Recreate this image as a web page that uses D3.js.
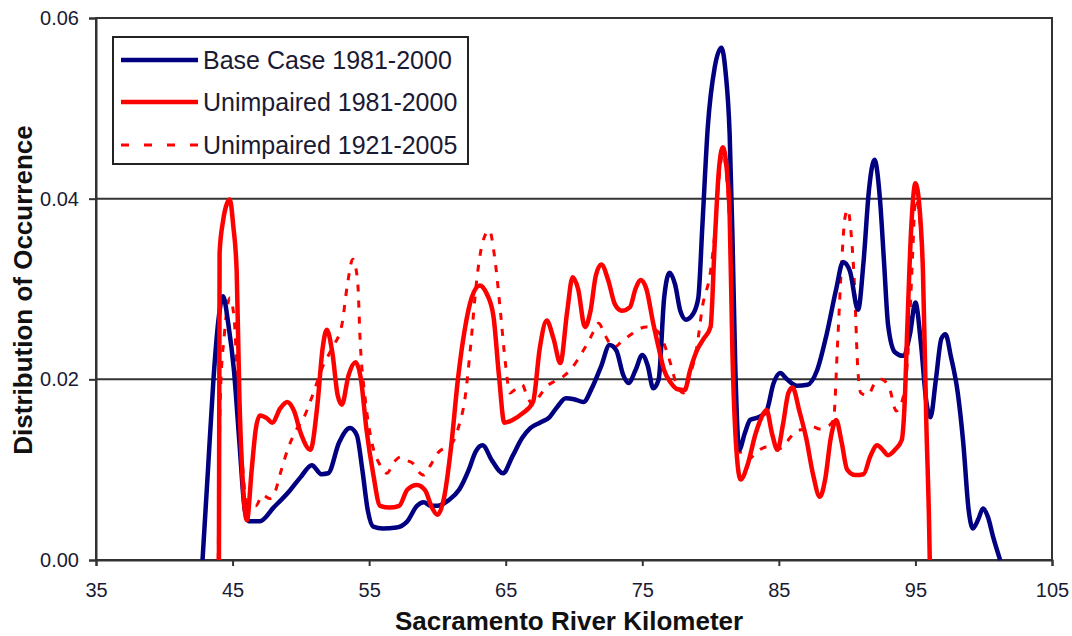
<!DOCTYPE html>
<html>
<head>
<meta charset="utf-8">
<script src="https://cdn.jsdelivr.net/npm/d3@7"></script>
<style>
  html, body { margin: 0; padding: 0; background: #fff; }
  svg { display: block; font-family: "Liberation Sans", Arial, sans-serif; }
</style>
</head>
<body>
<svg id="chart" width="1072" height="636"></svg>
<script>
// River kilometre (x) and distribution of occurrence (y) for each record.
const kmBase = [42.8, 43.2, 43.6, 44.0, 44.3, 44.7, 45.1, 45.5, 45.9, 46.2, 47.0, 48.0, 49.2, 50.0, 50.8, 51.5, 52.0, 52.8, 53.6, 54.1, 54.5, 54.9, 55.3, 56.0, 57.0, 57.8, 58.5, 59.0, 59.5, 60.0, 60.8, 61.6, 62.3, 62.8, 63.3, 64.0, 64.8, 65.5, 66.2, 66.8, 67.5, 68.2, 68.8, 69.4, 70.0, 70.7, 71.3, 72.0, 72.6, 73.1, 73.6, 74.0, 74.5, 75.0, 75.4, 75.8, 76.2, 76.6, 77.0, 77.4, 77.8, 78.2, 78.7, 79.1, 79.4, 79.8, 80.3, 80.8, 81.1, 81.4, 81.6, 81.8, 82.1, 82.5, 82.9, 83.5, 84.1, 84.6, 85.1, 85.6, 86.3, 87.1, 87.8, 88.5, 89.2, 89.7, 90.2, 90.8, 91.2, 91.6, 92.0, 92.4, 92.7, 93.0, 93.5, 94.1, 94.6, 95.0, 95.4, 95.8, 96.1, 96.5, 96.9, 97.2, 97.6, 98.1, 98.5, 98.9, 99.2, 99.6, 99.95, 100.3, 100.7, 101.2];
const occBase = [0, 0.010, 0.020, 0.027, 0.0292, 0.026, 0.021, 0.013, 0.0055, 0.0043, 0.0043, 0.0058, 0.0077, 0.0092, 0.0105, 0.0095, 0.0096, 0.0130, 0.0146, 0.0138, 0.0100, 0.0055, 0.0037, 0.0035, 0.0036, 0.0043, 0.0060, 0.0064, 0.0060, 0.0060, 0.0066, 0.0078, 0.0100, 0.0120, 0.0127, 0.0110, 0.0096, 0.0115, 0.0135, 0.0146, 0.0152, 0.0158, 0.0170, 0.0179, 0.0178, 0.0175, 0.0190, 0.0215, 0.0238, 0.0232, 0.0205, 0.0196, 0.0210, 0.0227, 0.0215, 0.0190, 0.0200, 0.0290, 0.0318, 0.0305, 0.0275, 0.0266, 0.0272, 0.0290, 0.0370, 0.0480, 0.0545, 0.0567, 0.0540, 0.0470, 0.0360, 0.0220, 0.0122, 0.0140, 0.0155, 0.0158, 0.0165, 0.0195, 0.0207, 0.0200, 0.0193, 0.0194, 0.0210, 0.0250, 0.0300, 0.0330, 0.0320, 0.0277, 0.0330, 0.0410, 0.0443, 0.0400, 0.0330, 0.0260, 0.0230, 0.0226, 0.0250, 0.0285, 0.0240, 0.0175, 0.0158, 0.0200, 0.0245, 0.0250, 0.0225, 0.0185, 0.0130, 0.0055, 0.0035, 0.0045, 0.0057, 0.0048, 0.0025, 0];

const kmUnimp81 = [44.0, 44.05, 44.3, 44.6, 44.8, 45.05, 45.3, 45.5, 45.75, 46.05, 46.4, 46.7, 47.0, 47.5, 47.9, 48.5, 49.0, 49.5, 50.0, 50.7, 51.2, 51.6, 51.9, 52.3, 52.7, 53.0, 53.5, 54.0, 54.4, 54.8, 55.3, 55.8, 56.5, 57.2, 57.8, 58.5, 59.1, 59.6, 60.0, 60.5, 61.0, 61.5, 62.0, 62.5, 63.1, 63.6, 64.1, 64.5, 64.9, 65.5, 66.2, 67.0, 67.5, 68.0, 68.5, 69.0, 69.5, 69.9, 70.3, 70.8, 71.2, 71.6, 72.0, 72.5, 73.0, 73.5, 74.1, 74.5, 74.9, 75.3, 75.8, 76.2, 76.6, 77.1, 77.6, 78.1, 78.5, 79.0, 79.5, 80.0, 80.3, 80.6, 80.9, 81.2, 81.4, 81.6, 81.9, 82.2, 82.7, 83.3, 83.7, 84.1, 84.5, 84.9, 85.3, 85.7, 86.0, 86.5, 87.0, 87.5, 88.0, 88.4, 88.8, 89.2, 89.6, 90.0, 90.6, 91.2, 91.7, 92.2, 92.6, 93.0, 93.5, 94.0, 94.2, 94.4, 94.7, 95.0, 95.3, 95.55, 95.8, 96.0, 96.05];
const occUnimp81 = [0, 0.0340, 0.0375, 0.0395, 0.0399, 0.0370, 0.0320, 0.0180, 0.0085, 0.0044, 0.0100, 0.0145, 0.0160, 0.0157, 0.0152, 0.0168, 0.0175, 0.0165, 0.0140, 0.0122, 0.0170, 0.0235, 0.0255, 0.0230, 0.0182, 0.0172, 0.0205, 0.0219, 0.0200, 0.0145, 0.0095, 0.0060, 0.0058, 0.0060, 0.0078, 0.0083, 0.0077, 0.0058, 0.0050, 0.0070, 0.0125, 0.0200, 0.0255, 0.0290, 0.0304, 0.0295, 0.0270, 0.0205, 0.0152, 0.0155, 0.0162, 0.0175, 0.0235, 0.0265, 0.0245, 0.0218, 0.0275, 0.0313, 0.0300, 0.0258, 0.0275, 0.0315, 0.0327, 0.0310, 0.0283, 0.0276, 0.0280, 0.0300, 0.0310, 0.0300, 0.0262, 0.0235, 0.0210, 0.0196, 0.0189, 0.0188, 0.0210, 0.0232, 0.0245, 0.0258, 0.0350, 0.0430, 0.0457, 0.0430, 0.0380, 0.0230, 0.0120, 0.0089, 0.0105, 0.0140, 0.0157, 0.0166, 0.0140, 0.0122, 0.0150, 0.0185, 0.0191, 0.0165, 0.0135, 0.0095, 0.0070, 0.0090, 0.0135, 0.0155, 0.0130, 0.0100, 0.0094, 0.0095, 0.0115, 0.0127, 0.0122, 0.0116, 0.0122, 0.0133, 0.0170, 0.0255, 0.0370, 0.0417, 0.0390, 0.0320, 0.0150, 0.0040, 0];

const kmUnimp21 = [43.95, 44.1, 44.4, 44.8, 45.1, 45.35, 45.7, 46.1, 46.7, 47.2, 47.7, 48.1, 48.5, 49.1, 49.7, 50.2, 50.8, 51.6, 52.3, 53.0, 53.4, 53.8, 54.15, 54.35, 54.7, 55.2, 55.8, 56.3, 56.8, 57.3, 57.8, 58.2, 58.6, 59.0, 59.5, 60.0, 60.6, 61.1, 61.6, 62.0, 62.4, 62.9, 63.3, 63.8, 64.2, 64.6, 65.0, 65.3, 65.8, 66.2, 66.6, 67.0, 67.5, 68.0, 68.6, 69.2, 69.7, 70.2, 70.6, 71.0, 71.4, 71.8, 72.3, 72.9, 73.5, 74.2, 74.8, 75.3, 75.8, 76.3, 76.7, 77.0, 77.5, 78.0, 78.5, 79.0, 79.4, 80.0, 80.3, 80.6, 80.9, 81.2, 81.4, 81.6, 81.9, 82.3, 82.8, 83.4, 84.1, 84.7, 85.3, 85.8, 86.3, 86.9, 87.4, 88.0, 88.6, 89.0, 89.3, 89.6, 89.85, 90.05, 90.3, 90.55, 90.75, 91.0, 91.5, 92.0, 92.5, 93.1, 93.6, 94.1, 94.5, 94.8, 95.0, 95.3, 95.55, 95.8, 96.0, 96.05];
const occUnimp21 = [0, 0.018, 0.025, 0.0290, 0.0270, 0.0200, 0.0110, 0.0060, 0.0060, 0.0072, 0.0068, 0.0075, 0.0096, 0.0125, 0.0145, 0.0157, 0.0180, 0.0214, 0.0235, 0.0260, 0.0304, 0.0333, 0.0310, 0.0240, 0.0180, 0.0130, 0.0105, 0.0096, 0.0108, 0.0114, 0.0110, 0.0107, 0.0098, 0.0094, 0.0105, 0.0118, 0.0125, 0.0130, 0.0150, 0.0177, 0.0232, 0.0313, 0.0351, 0.0365, 0.0334, 0.0277, 0.0215, 0.0185, 0.0190, 0.0194, 0.0180, 0.0172, 0.0182, 0.0192, 0.0198, 0.0203, 0.0210, 0.0220, 0.0230, 0.0240, 0.0252, 0.0262, 0.0248, 0.0235, 0.0242, 0.0250, 0.0256, 0.0258, 0.0256, 0.0250, 0.0235, 0.0221, 0.0195, 0.0185, 0.0205, 0.0236, 0.0280, 0.0320, 0.0360, 0.0420, 0.0450, 0.0420, 0.0370, 0.0260, 0.0160, 0.0115, 0.0112, 0.0120, 0.0125, 0.0122, 0.0125, 0.0135, 0.0143, 0.0145, 0.0148, 0.0145, 0.0148, 0.0155, 0.0240, 0.0330, 0.0380, 0.0388, 0.0360, 0.0300, 0.0220, 0.0185, 0.0182, 0.0195, 0.0200, 0.0190, 0.0165, 0.0180, 0.0240, 0.0340, 0.0400, 0.0380, 0.0310, 0.0150, 0.0040, 0];

const seriesNames = ["Base Case 1981-2000", "Unimpaired 1981-2000", "Unimpaired 1921-2005"];
const xTicks = [35, 45, 55, 65, 75, 85, 95, 105];
const yTicks = [0, 0.02, 0.04, 0.06];
const xTitle = "Sacramento River Kilometer";
const yTitle = "Distribution of Occurrence";

const svg = d3.select("#chart");
const plotLeft = 96, plotRight = 1052, plotTop = 18, plotBottom = 560;

const x = d3.scaleLinear().domain([35, 105]).range([plotLeft, plotRight]);
const y = d3.scaleLinear().domain([0, 0.06]).range([plotBottom, plotTop]);

svg.append("rect").attr("width", 1072).attr("height", 636).attr("fill", "#fff");

// horizontal gridlines
svg.append("g").selectAll("line")
  .data(yTicks.filter(d => d > 0 && d < 0.06))
  .join("line")
  .attr("x1", plotLeft).attr("x2", plotRight)
  .attr("y1", d => y(d)).attr("y2", d => y(d))
  .attr("stroke", "#333").attr("stroke-width", 2);

// plot frame
svg.append("rect")
  .attr("x", plotLeft).attr("y", plotTop)
  .attr("width", plotRight - plotLeft).attr("height", plotBottom - plotTop)
  .attr("fill", "none").attr("stroke", "#333").attr("stroke-width", 2);

// axes
const yAxis = svg.append("g")
  .attr("transform", `translate(${plotLeft},0)`)
  .call(d3.axisLeft(y).tickValues(yTicks).tickFormat(d3.format(".2f")).tickSize(7).tickPadding(10));
const xAxis = svg.append("g")
  .attr("transform", `translate(0,${plotBottom})`)
  .call(d3.axisBottom(x).tickValues(xTicks).tickFormat(d3.format("d")).tickSize(6).tickPadding(17));

[yAxis, xAxis].forEach(g => {
  g.select(".domain").attr("stroke", "#333").attr("stroke-width", 2);
  g.selectAll(".tick line").attr("stroke", "#333").attr("stroke-width", 2);
  g.selectAll(".tick text")
    .attr("fill", "#1a1a33")
    .style("font-family", '"Liberation Sans", Arial, sans-serif')
    .style("font-size", "20px");
});

// axis titles
svg.append("text")
  .attr("x", 569).attr("y", 630)
  .attr("text-anchor", "middle")
  .style("font-size", "26px").style("font-weight", "bold")
  .attr("fill", "#111")
  .text(xTitle);
svg.append("text")
  .attr("transform", "translate(32,290) rotate(-90)")
  .attr("text-anchor", "middle")
  .style("font-size", "26px").style("font-weight", "bold")
  .attr("fill", "#111")
  .text(yTitle);

// curves
const line = d3.line()
  .x(d => x(d[0]))
  .y(d => y(d[1]))
  .curve(d3.curveMonotoneX);

const pairs = (xs, ys) => xs.map((v, i) => [v, ys[i]]);

const series = [
  { name: seriesNames[2], pts: pairs(kmUnimp21, occUnimp21), color: "#ff0000", width: 3, dash: "7,9" },
  { name: seriesNames[0], pts: pairs(kmBase, occBase), color: "#000080", width: 4.5, dash: null },
  { name: seriesNames[1], pts: pairs(kmUnimp81, occUnimp81), color: "#ff0000", width: 4.5, dash: null }
];

svg.append("g").selectAll("path")
  .data(series)
  .join("path")
  .attr("d", d => line(d.pts))
  .attr("fill", "none")
  .attr("stroke", d => d.color)
  .attr("stroke-width", d => d.width)
  .attr("stroke-dasharray", d => d.dash)
  .attr("stroke-linejoin", "round");

// legend
const legend = svg.append("g");
legend.append("rect")
  .attr("x", 113).attr("y", 37).attr("width", 355).attr("height", 127)
  .attr("fill", "#fff").attr("stroke", "#222").attr("stroke-width", 2);

const legendItems = [series[1], series[2], series[0]];
const rowY = [60, 102, 145];
const rows = legend.selectAll("g.row")
  .data(legendItems)
  .join("g")
  .attr("class", "row")
  .attr("transform", (d, i) => `translate(0,${rowY[i]})`);
rows.append("line")
  .attr("x1", 121).attr("x2", 198)
  .attr("stroke", d => d.color)
  .attr("stroke-width", d => d.width)
  .attr("stroke-dasharray", d => d.dash ? "8,15" : null);
rows.append("text")
  .attr("x", 203).attr("dy", "0.36em")
  .style("font-size", "25px")
  .attr("fill", "#1a1a33")
  .text(d => d.name);
</script>
</body>
</html>
